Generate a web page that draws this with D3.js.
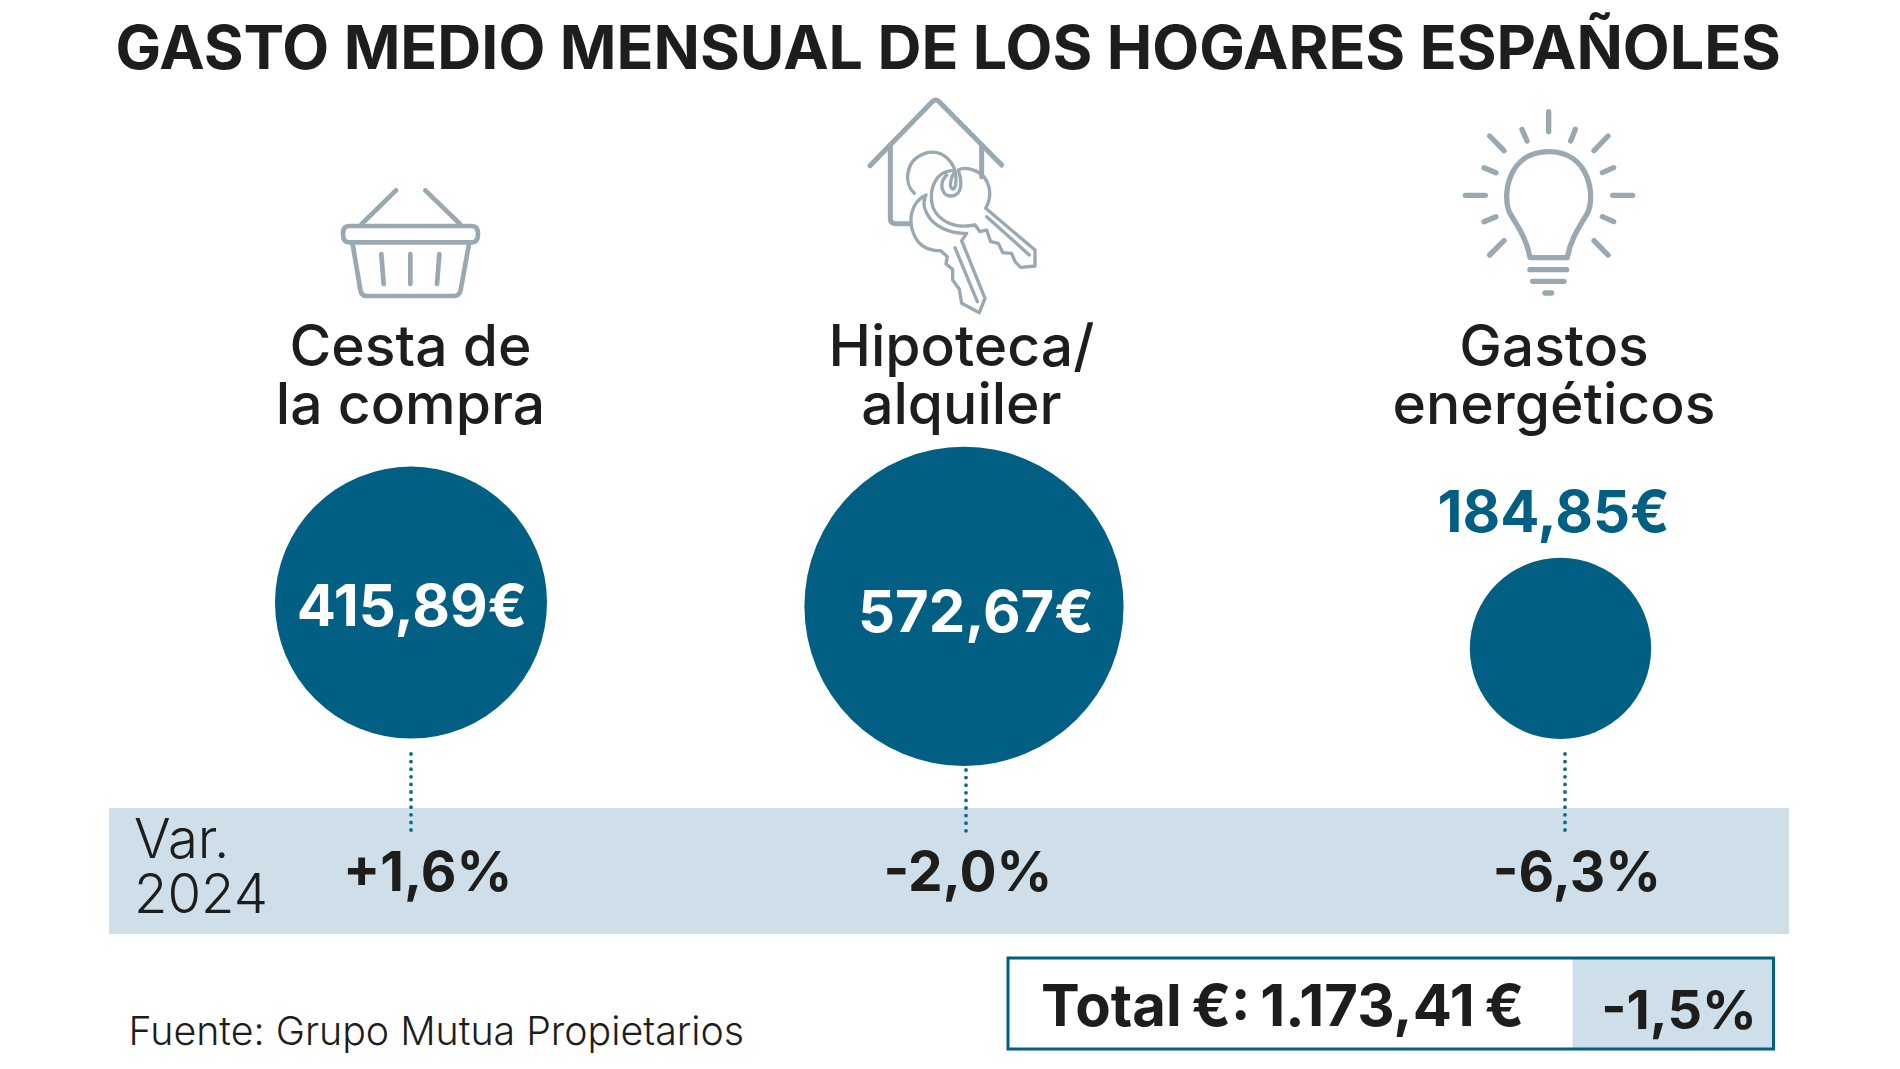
<!DOCTYPE html>
<html lang="es">
<head>
<meta charset="utf-8">
<title>Gasto medio mensual de los hogares españoles</title>
<script src="https://cdn.jsdelivr.net/npm/d3@7"></script>
<style>
  html, body { margin: 0; padding: 0; background: #fff; }
  svg { display: block; }
  text { font-family: Inter, "Noto Sans", sans-serif; fill: #1d1d1b; }
</style>
</head>
<body>
<div id="chart"></div>
<script>
// data
const categories = ['Cesta de la compra', 'Hipoteca/alquiler', 'Gastos energéticos'];
const labelLines = [['Cesta de', 'la compra'], ['Hipoteca/', 'alquiler'], ['Gastos', 'energéticos']];
const amounts = [415.89, 572.67, 184.85];
const variations = [1.6, -2.0, -6.3];
const totalAmount = 1173.41;
const totalVariation = -1.5;

const width = 1900, height = 1069;
const blue = '#005f83', band = '#cfdfea', iconGrey = '#9aa8b2';

const svg = d3.select('#chart').append('svg')
    .attr('width', width)
    .attr('height', height);

// circle area follows the amount
const r = d3.scaleSqrt().domain([0, d3.max(amounts)]).range([0, 159.6]);
const cx = d3.scaleOrdinal().domain(categories).range([411, 964, 1560.5]);
const cy = d3.scaleOrdinal().domain(categories).range([602.6, 606.4, 648.4]);
const labelX = d3.scaleOrdinal().domain(categories).range([410.5, 961.4, 1554]);
const amountX = d3.scaleOrdinal().domain(categories).range([412, 976, 1553.6]);
const amountY = d3.scaleOrdinal().domain(categories).range([626.4, 632, 532]);
const amountFill = d3.scaleOrdinal().domain(categories).range(['#fff', '#fff', blue]);
const varX = d3.scaleOrdinal().domain(categories).range([427.7, 968, 1577]);
const stemX = d3.scaleOrdinal().domain(categories).range([411, 966, 1565]);
const stemY = d3.scaleOrdinal().domain(categories).range([754, 770, 754]);

const euro = d3.formatLocale({ decimal: ',', thousands: '.', grouping: [3], currency: ['', '€'] }).format(',.2f');
const pct = v => (v > 0 ? '+' : '') + v.toFixed(1).replace('.', ',') + '%';

// title
svg.append('text')
    .attr('x', 948.2).attr('y', 68.5)
    .attr('text-anchor', 'middle')
    .attr('font-size', 60.9).attr('font-weight', 700)
    .text('GASTO MEDIO MENSUAL DE LOS HOGARES ESPAÑOLES');

// variation band
svg.append('rect')
    .attr('x', 109).attr('y', 808)
    .attr('width', 1680).attr('height', 126)
    .attr('fill', band);

svg.append('g').selectAll('text')
    .data(['Var.', '2024'])
    .join('text')
    .attr('x', 134)
    .attr('y', (d, i) => 858 + i * 55.4)
    .attr('font-size', 54.5).attr('font-weight', 300)
    .text(d => d);

// icons, traced in 3x crop pixels
const icons = [
  { x: 300, y: 80, sw: 14, paths: [
    'M288 331L185 432M376 331L480 432',
    'M147 438H516Q534 438 534 462Q534 487 516 487H147Q129 487 129 462Q129 438 147 438Z',
    'M158 492L181 630Q184 648 200 648H462Q478 648 482 630L507 492',
    'M244 522L251 612M331 522V612M418 522L411 612'
  ] },
  { x: 820, y: 80, sw: 15, paths: [
    'M150 257L338 64Q347 56 356 64L545 255',
    'M211 195V415Q211 431 226 431H270M485 195V290'
  ] },
  { x: 820, y: 80, sw: 10, paths: [
    'M283 340C250 310 255 240 315 220C365 205 410 245 408 300C408 320 403 332 395 325C388 318 392 290 405 275',
    'M395 272C350 275 330 320 335 365C340 410 390 450 465 435L480 455L500 450L512 485L535 490L548 518L575 520L585 545L602 562L645 558L645 510L497 385C520 345 510 290 465 272C445 264 425 264 415 270C425 300 430 345 395 348C365 350 355 310 380 285',
    'M318 345C275 365 260 420 285 470C300 500 330 512 362 512L382 530L378 552L398 568L398 600L418 628L425 670L478 698L495 655L425 482L440 460C390 462 340 440 320 400C310 380 310 360 318 345Z',
    'M500 410L628 525M405 503L472 665'
  ] },
  { x: 1420, y: 90, sw: 16, paths: [
    'M386 65V125M306 118L321 153M466 118L452 153M209 138L252 182M564 138L522 182',
    'M192 233L228 248M581 233L547 248M136 316H196M578 316H638M192 395L228 380M581 395L547 380M209 495L252 452M564 495L522 452',
    'M330 503C320 445 290 405 270 370C245 320 262 185 386 185C510 185 527 320 502 370C482 405 452 445 442 503Z',
    'M330 539H440M338 574H432M375 609H395'
  ] }
];
const iconG = svg.append('g').selectAll('g')
    .data(icons)
    .join('g')
    .attr('transform', d => `translate(${d.x},${d.y}) scale(${1 / 3})`)
    .attr('fill', 'none')
    .attr('stroke', iconGrey)
    .attr('stroke-linecap', 'round')
    .attr('stroke-linejoin', 'round')
    .attr('stroke-width', d => d.sw);
iconG.selectAll('path')
    .data(d => d.paths)
    .join('path')
    .attr('d', d => d);

// one group for each category
const cols = svg.append('g').selectAll('g')
    .data(categories)
    .join('g');

cols.selectAll('.label')
    .data((d, i) => labelLines[i].map(t => ({ t, cat: d })))
    .join('text')
    .attr('class', 'label')
    .attr('x', d => labelX(d.cat))
    .attr('y', (d, i) => 366 + i * 58)
    .attr('text-anchor', 'middle')
    .attr('font-size', 57).attr('font-weight', 450)
    .text(d => d.t);

cols.append('circle')
    .attr('cx', d => cx(d))
    .attr('cy', d => cy(d))
    .attr('r', (d, i) => r(amounts[i]))
    .attr('fill', blue);

cols.append('line')
    .attr('x1', d => stemX(d)).attr('x2', d => stemX(d))
    .attr('y1', d => stemY(d)).attr('y2', 835)
    .attr('stroke', '#0a6b8a')
    .attr('stroke-width', 3.8)
    .attr('stroke-linecap', 'round')
    .attr('stroke-dasharray', '0 7.6');

cols.append('text')
    .attr('x', d => amountX(d))
    .attr('y', d => amountY(d))
    .attr('text-anchor', 'middle')
    .attr('font-size', 58).attr('font-weight', 700)
    .style('fill', d => amountFill(d))
    .text((d, i) => euro(amounts[i]) + '€');

cols.append('text')
    .attr('x', d => varX(d))
    .attr('y', 891)
    .attr('text-anchor', 'middle')
    .attr('font-size', 55).attr('font-weight', 700)
    .text((d, i) => pct(variations[i]));

// total box
svg.append('rect')
    .attr('x', 1572.7).attr('y', 957)
    .attr('width', 201).attr('height', 92)
    .attr('fill', band);
svg.append('rect')
    .attr('x', 1008).attr('y', 958)
    .attr('width', 765.5).attr('height', 91)
    .attr('fill', 'none')
    .attr('stroke', blue)
    .attr('stroke-width', 3);
svg.append('text')
    .attr('x', 1041).attr('y', 1026)
    .attr('font-size', 58).attr('font-weight', 700)
    .attr('word-spacing', -4)
    .text('Total €: ' + euro(totalAmount) + ' €');
svg.append('text')
    .attr('x', 1679).attr('y', 1028.6)
    .attr('text-anchor', 'middle')
    .attr('font-size', 54).attr('font-weight', 650)
    .text(pct(totalVariation));

// source
svg.append('text')
    .attr('x', 128.5).attr('y', 1045)
    .attr('font-size', 39.3).attr('font-weight', 300)
    .text('Fuente: Grupo Mutua Propietarios');
</script>
</body>
</html>
